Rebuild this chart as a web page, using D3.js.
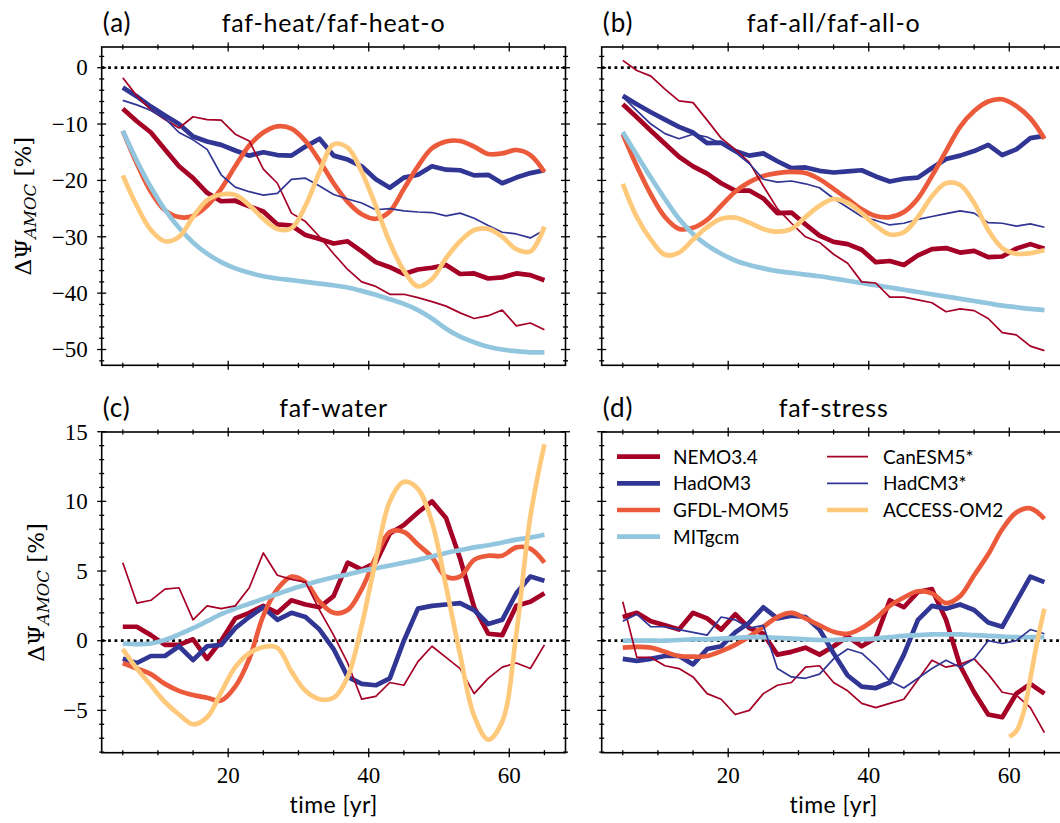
<!DOCTYPE html>
<html><head><meta charset="utf-8">
<script src="https://cdn.jsdelivr.net/npm/d3@7"></script>
<style>body{margin:0;background:#fff;} svg{display:block;}</style>
</head><body>
<svg id="chart" width="1060" height="823"></svg>
<script>
// ---------------- DATA ----------------
const years = [5,7,9,11,13,15,17,19,21,23,25,27,29,31,33,35,37,39,41,43,45,47,49,51,53,55,57,59,61,63,65];

// (a) faf-heat / faf-heat-o
const nemoA    = [-7.3,-9.5,-11.5,-14.5,-17.5,-19.6,-22.2,-23.7,-23.6,-24.6,-25.5,-27.8,-28.0,-29.7,-30.4,-31.2,-30.8,-32.6,-34.5,-35.4,-36.6,-35.8,-35.5,-35.0,-36.6,-36.5,-37.4,-37.2,-36.5,-36.8,-37.7];
const hadom3A  = [-3.5,-5.1,-6.9,-8.5,-10.0,-12.2,-13.1,-13.7,-14.7,-15.6,-15.0,-15.5,-15.6,-14.0,-12.6,-15.6,-16.3,-17.5,-19.8,-21.3,-19.5,-19.0,-17.5,-18.1,-18.2,-19.1,-19.0,-20.5,-19.5,-18.7,-18.2];
const gfdlA    = [-11.2,-17.0,-22.0,-25.3,-26.5,-26.3,-24.5,-21.5,-17.5,-13.8,-11.5,-10.4,-10.8,-13.0,-16.5,-20.5,-23.8,-26.0,-26.8,-25.5,-21.5,-17.5,-14.3,-13.1,-13.0,-14.0,-15.3,-15.2,-14.6,-15.5,-18.5];
const mitA     = [-11.2,-16.5,-21.2,-25.2,-28.4,-31.0,-33.0,-34.5,-35.6,-36.4,-37.0,-37.4,-37.7,-38.0,-38.3,-38.6,-39.0,-39.6,-40.3,-41.1,-41.9,-43.0,-44.5,-46.3,-47.7,-48.7,-49.5,-50.0,-50.3,-50.5,-50.5];
const canA     = [-1.8,-5.0,-7.5,-9.2,-10.7,-8.7,-9.2,-9.3,-11.8,-13.0,-18.0,-20.5,-25.8,-27.3,-30.0,-33.0,-35.8,-38.0,-38.8,-40.2,-40.2,-40.8,-41.5,-42.3,-43.5,-44.5,-44.0,-43.0,-45.8,-45.3,-46.5];
const hadcm3A  = [-5.8,-6.6,-7.6,-9.0,-11.5,-12.8,-14.5,-19.0,-21.2,-22.0,-22.6,-22.3,-19.8,-19.6,-21.0,-22.5,-23.3,-24.0,-25.2,-25.0,-25.4,-25.6,-25.7,-26.3,-25.8,-26.7,-28.0,-29.2,-29.5,-30.2,-28.8];
const accessA  = [-19.1,-24.5,-28.8,-30.8,-30.0,-26.5,-23.5,-22.5,-22.6,-24.4,-26.8,-28.6,-28.5,-24.5,-18.5,-13.6,-14.2,-18.5,-24.5,-31.0,-36.0,-38.8,-37.5,-33.8,-30.8,-28.8,-28.6,-30.0,-32.2,-32.6,-28.2];

// (b) faf-all / faf-all-o
const nemoB    = [-6.5,-8.8,-11.2,-13.5,-15.8,-17.5,-18.8,-20.5,-21.8,-21.8,-23.2,-25.8,-25.7,-27.8,-29.8,-30.9,-31.3,-32.3,-34.5,-34.3,-35.0,-33.3,-32.2,-32.0,-32.8,-32.5,-33.6,-33.5,-32.1,-31.3,-32.1];
const hadom3B  = [-5.0,-6.5,-7.9,-9.2,-10.5,-11.5,-13.4,-13.3,-14.8,-15.6,-15.2,-16.6,-17.8,-17.7,-18.3,-18.6,-18.4,-18.2,-19.3,-20.2,-19.7,-19.5,-17.8,-16.2,-15.6,-14.8,-13.7,-15.5,-14.5,-12.5,-12.1];
const gfdlB    = [-11.8,-17.5,-22.5,-26.5,-28.6,-28.4,-27.0,-24.5,-22.0,-20.3,-19.2,-18.7,-18.5,-18.7,-19.8,-21.5,-23.3,-25.1,-26.3,-26.5,-25.6,-23.2,-19.2,-14.8,-10.5,-7.7,-6.0,-5.6,-6.8,-9.0,-12.6];
const mitB     = [-11.4,-15.5,-19.5,-23.3,-26.8,-29.5,-31.5,-33.0,-34.2,-35.0,-35.6,-36.1,-36.4,-36.7,-37.0,-37.4,-37.8,-38.2,-38.6,-39.0,-39.4,-39.8,-40.2,-40.6,-41.0,-41.4,-41.8,-42.2,-42.5,-42.8,-43.0];
const canB     = [1.3,-0.5,-1.5,-3.8,-5.9,-6.2,-9.3,-12.5,-14.5,-16.8,-21.0,-25.0,-27.6,-30.0,-31.0,-33.1,-34.7,-38.0,-38.2,-40.7,-40.7,-41.2,-41.7,-43.3,-42.8,-43.1,-44.5,-47.0,-47.4,-49.4,-50.2];
const hadcm3B  = [-5.2,-7.6,-10.0,-11.7,-12.6,-11.8,-12.3,-13.5,-15.0,-17.0,-19.8,-20.3,-20.1,-20.6,-21.3,-23.2,-24.8,-26.4,-27.1,-27.9,-27.6,-26.9,-26.4,-25.9,-25.4,-25.8,-27.5,-27.6,-28.1,-27.7,-28.3];
const accessB  = [-20.6,-26.5,-30.5,-33.2,-32.8,-30.5,-28.3,-26.8,-26.6,-27.5,-28.6,-29.1,-28.6,-26.5,-24.5,-23.3,-24.0,-25.8,-28.0,-29.6,-29.2,-26.5,-22.8,-20.5,-20.8,-24.0,-28.8,-32.0,-33.0,-32.9,-32.4];

// (c) faf-water
const nemoC    = [1.0,1.0,0.4,-0.3,-0.3,0.1,-1.3,0.0,1.6,2.0,2.5,2.0,2.9,2.6,2.4,3.2,5.6,5.1,5.6,7.7,8.3,9.2,10.0,8.8,5.9,2.4,0.5,0.4,2.5,2.8,3.4];
const hadom3C  = [-1.3,-1.6,-1.1,-1.1,-0.4,-1.4,-0.4,-0.3,0.9,1.7,2.4,1.5,2.0,1.7,0.8,-0.6,-2.6,-3.1,-3.2,-2.7,0.0,2.3,2.5,2.6,2.7,2.2,1.2,1.5,3.4,4.6,4.3];
const gfdlC    = [-1.6,-2.0,-2.4,-3.1,-3.6,-3.9,-4.1,-4.3,-3.3,-1.3,1.8,3.7,4.6,4.2,2.8,2.0,2.2,3.7,6.0,7.8,7.8,6.9,6.0,4.6,4.6,5.8,6.1,6.1,6.7,6.6,5.6];
const mitC     = [-0.2,-0.25,-0.2,0.05,0.45,0.9,1.4,1.9,2.3,2.65,3.0,3.35,3.7,4.0,4.3,4.55,4.75,5.0,5.2,5.4,5.6,5.8,6.05,6.3,6.5,6.7,6.85,7.05,7.25,7.4,7.6];
const canC     = [5.6,2.7,2.9,3.7,3.8,1.5,2.5,2.3,2.5,3.8,6.3,4.7,4.4,4.2,2.2,0.4,-1.6,-4.2,-4.0,-3.0,-3.2,-1.5,-0.4,-1.2,-2.0,-3.8,-2.7,-1.9,-1.6,-2.0,-0.3];
const accessC  = [-0.6,-2.0,-3.2,-4.4,-5.3,-6.0,-5.5,-3.7,-1.9,-0.9,-0.45,-0.5,-2.2,-3.6,-4.2,-4.1,-2.6,1.1,5.8,10.0,11.4,10.9,8.5,3.9,-1.0,-5.4,-7.1,-5.8,0.5,8.9,14.1];

// (d) faf-stress
const nemoD    = [1.7,2.0,1.4,1.1,0.8,2.0,1.6,0.8,1.9,0.9,0.5,-1.0,-0.8,-0.5,-1.0,-0.4,0.3,-0.4,0.2,2.9,2.4,3.5,3.7,1.5,-1.8,-3.7,-5.3,-5.5,-3.8,-3.1,-3.8];
const hadom3D  = [-1.3,-1.45,-1.3,-1.1,-1.1,-1.7,-0.6,-0.4,0.6,1.3,2.4,1.6,1.8,1.7,0.8,-0.9,-2.5,-3.3,-3.4,-3.0,-1.0,1.5,2.5,2.3,2.6,2.2,1.3,1.0,2.8,4.6,4.2];
const gfdlD    = [-0.5,-0.45,-0.5,-0.8,-1.1,-1.15,-1.1,-0.75,-0.3,0.3,1.0,1.7,2.0,1.6,1.1,0.65,0.5,0.9,1.6,2.5,3.1,3.55,3.4,2.7,3.2,4.7,6.2,8.0,9.2,9.5,8.75];
const mitD     = [0.0,0.0,0.0,0.0,0.05,0.1,0.1,0.15,0.2,0.25,0.25,0.2,0.15,0.1,0.05,0.05,0.1,0.1,0.15,0.25,0.35,0.4,0.45,0.45,0.45,0.4,0.35,0.3,0.25,0.25,0.25];
const canD     = [2.8,-1.2,-1.2,-1.8,-2.0,-2.6,-3.8,-4.2,-5.3,-5.0,-3.8,-3.2,-3.0,-1.9,-1.8,-3.0,-3.6,-4.5,-4.8,-4.5,-4.2,-2.8,-1.4,-1.9,-1.7,-1.3,-2.4,-3.7,-3.9,-4.8,-6.6];
const hadcm3D  = [1.4,1.9,1.0,1.0,0.8,0.6,0.4,1.7,1.5,0.9,1.1,-2.0,-2.6,-2.7,-2.4,-1.3,-0.6,-0.9,-1.8,-2.9,-3.4,-2.7,-2.0,-1.4,-1.9,-1.3,0.0,-0.2,0.0,0.8,0.5];
const accessDYears = [60,61,62,63,64,65];
const accessD  = [-6.9,-6.5,-5.2,-2.7,0.0,2.3];

// tick values and labels
const xMajorTicks = [20,40,60];
const xMinorTicks = [5,10,15,25,30,35,45,50,55,65];
const yMajorTop = [0,-10,-20,-30,-40,-50];
const yMajorBottom = [15,10,5,0,-5];
const panelLetters = ["(a)","(b)","(c)","(d)"];
const panelTitles = ["faf-heat/faf-heat-o","faf-all/faf-all-o","faf-water","faf-stress"];
const modelNames = ["NEMO3.4","HadOM3","GFDL-MOM5","MITgcm","CanESM5*","HadCM3*","ACCESS-OM2"];

// ---------------- STYLE ----------------
const colors = {"NEMO3.4":"#a50026","HadOM3":"#313695","GFDL-MOM5":"#ec5a3c","MITgcm":"#92c6df",
                "CanESM5*":"#a50026","HadCM3*":"#313695","ACCESS-OM2":"#fec97a"};
const widths = {"NEMO3.4":4.7,"HadOM3":4.7,"GFDL-MOM5":4.7,"MITgcm":4.7,"CanESM5*":1.7,"HadCM3*":1.7,"ACCESS-OM2":4.7};
const smooth = {"GFDL-MOM5":true,"MITgcm":true,"ACCESS-OM2":true};
const SANS = "Lato, 'Noto Sans', sans-serif";
const SERIF = "'Liberation Serif', 'DejaVu Serif', serif";
const MATH = "'DejaVu Serif', serif";

const svg = d3.select("#chart");
svg.append("rect").attr("width",1060).attr("height",823).attr("fill","#fff");

const panels = [
  {x0:101.7, y0:47,  y1:365.3, dom:[-52.8,3.67],  yt:yMajorTop,    minStep:2, rng:[-52,2],
   series:{"NEMO3.4":nemoA,"HadOM3":hadom3A,"GFDL-MOM5":gfdlA,"MITgcm":mitA,"CanESM5*":canA,"HadCM3*":hadcm3A,"ACCESS-OM2":accessA}, ylab:true, xlab:false, labX:31},
  {x0:601.7, y0:47,  y1:365.3, dom:[-52.8,3.67],  yt:yMajorTop,    minStep:2, rng:[-52,2],
   series:{"NEMO3.4":nemoB,"HadOM3":hadom3B,"GFDL-MOM5":gfdlB,"MITgcm":mitB,"CanESM5*":canB,"HadCM3*":hadcm3B,"ACCESS-OM2":accessB}, ylab:false, xlab:false},
  {x0:101.7, y0:432, y1:752.7, dom:[-8.04,14.98], yt:yMajorBottom, minStep:1, rng:[-8,14],
   series:{"NEMO3.4":nemoC,"HadOM3":hadom3C,"GFDL-MOM5":gfdlC,"MITgcm":mitC,"CanESM5*":canC,"ACCESS-OM2":accessC}, ylab:true, xlab:true, labX:44},
  {x0:601.7, y0:432, y1:752.7, dom:[-8.04,14.98], yt:yMajorBottom, minStep:1, rng:[-8,14],
   series:{"NEMO3.4":nemoD,"HadOM3":hadom3D,"GFDL-MOM5":gfdlD,"MITgcm":mitD,"CanESM5*":canD,"HadCM3*":hadcm3D,"ACCESS-OM2":accessD}, ylab:false, xlab:true, legend:true}
];
const W = 463.8;

panels.forEach((p,i)=>{
  const x = d3.scaleLinear().domain([2,68]).range([p.x0, p.x0+W]);
  const y = d3.scaleLinear().domain(p.dom).range([p.y1, p.y0]);
  const g = svg.append("g");
  const cid = "clip"+i;
  svg.append("clipPath").attr("id",cid).append("rect")
     .attr("x",p.x0).attr("y",p.y0).attr("width",W).attr("height",p.y1-p.y0);

  // zero line
  g.append("line").attr("x1",p.x0).attr("x2",p.x0+W).attr("y1",y(0)).attr("y2",y(0))
   .attr("stroke","#000").attr("stroke-width",2.8).attr("stroke-dasharray","2.8,3.6");

  // series
  const lg = g.append("g").attr("clip-path",`url(#${cid})`);
  modelNames.forEach(name=>{
    const vals = p.series[name];
    if(!vals) return;
    const xs = (i===3 && name==="ACCESS-OM2") ? accessDYears : years;
    const pts = xs.map((t,k)=>[t, vals[k]]);
    const line = d3.line().x(d=>x(d[0])).y(d=>y(d[1]))
      .curve(smooth[name] ? d3.curveCatmullRom.alpha(0.5) : d3.curveLinear);
    lg.append("path").attr("d", line(pts)).attr("fill","none")
      .attr("stroke", colors[name]).attr("stroke-width", widths[name])
      .attr("stroke-linejoin","round").attr("stroke-linecap","butt");
  });

  // frame
  g.append("rect").attr("x",p.x0).attr("y",p.y0).attr("width",W).attr("height",p.y1-p.y0)
   .attr("fill","none").attr("stroke","#000").attr("stroke-width",1.6);

  // ticks (in-out on all sides)
  const tk = g.append("g").attr("stroke","#000").attr("stroke-width",1.3);
  const xr = p.x0+W;
  xMajorTicks.forEach(t=>{
    [p.y0,p.y1].forEach(yy=>tk.append("line").attr("x1",x(t)).attr("x2",x(t)).attr("y1",yy-4.5).attr("y2",yy+4.5));
  });
  xMinorTicks.forEach(t=>{
    [p.y0,p.y1].forEach(yy=>tk.append("line").attr("x1",x(t)).attr("x2",x(t)).attr("y1",yy-2.5).attr("y2",yy+2.5));
  });
  p.yt.forEach(t=>{
    [p.x0,xr].forEach(xx=>tk.append("line").attr("y1",y(t)).attr("y2",y(t)).attr("x1",xx-4.5).attr("x2",xx+4.5));
  });
  d3.range(p.rng[0], p.rng[1]+0.01, p.minStep).filter(v=>!p.yt.includes(v)).forEach(t=>{
    [p.x0,xr].forEach(xx=>tk.append("line").attr("y1",y(t)).attr("y2",y(t)).attr("x1",xx-2.5).attr("x2",xx+2.5));
  });

  // tick labels
  const fmt = d3.format("d");
  if(p.ylab){
    p.yt.forEach(t=>{
      g.append("text").attr("x",p.x0-14).attr("y",y(t)+7.8).attr("text-anchor","end")
       .attr("font-family",SERIF).attr("font-size",23).text(fmt(t));
    });
    const yl = g.append("text").attr("transform",`translate(${p.labX},${(p.y0+p.y1)/2}) rotate(-90)`)
      .attr("text-anchor","middle").attr("font-family",MATH).attr("font-size",23);
    yl.append("tspan").text("ΔΨ");
    yl.append("tspan").attr("font-style","italic").attr("font-size",16.5).attr("dy",5).text("AMOC");
    yl.append("tspan").attr("dy",-5).text(" [%]");
  }
  if(p.xlab){
    xMajorTicks.forEach(t=>{
      g.append("text").attr("x",x(t)).attr("y",p.y1+30.5).attr("text-anchor","middle")
       .attr("font-family",SERIF).attr("font-size",23).text(fmt(t));
    });
    g.append("text").attr("x",p.x0+W/2).attr("y",p.y1+60).attr("text-anchor","middle")
     .attr("font-family",SANS).attr("font-size",23).attr("letter-spacing",0.5).text("time [yr]");
  }

  // titles
  g.append("text").attr("x",p.x0+1).attr("y",p.y0-15).attr("font-family",SANS).attr("font-size",26)
   .attr("letter-spacing",1).text(panelLetters[i]);
  g.append("text").attr("x",p.x0+W/2).attr("y",p.y0-15).attr("text-anchor","middle")
   .attr("font-family",SANS).attr("font-size",25).attr("letter-spacing",0.8).text(panelTitles[i]);

  // legend
  if(p.legend){
    const cols = [[617,660,673],[827,868,883]];
    const rows = [456.7,483.3,510,536.7];
    modelNames.forEach((name,k)=>{
      const c = k<4 ? 0 : 1, r = k<4 ? k : k-4;
      const lgx = cols[c];
      g.append("line").attr("x1",lgx[0]).attr("x2",lgx[1]).attr("y1",rows[r]).attr("y2",rows[r])
       .attr("stroke",colors[name]).attr("stroke-width",widths[name]);
      g.append("text").attr("x",lgx[2]).attr("y",rows[r]+6.8).attr("font-family",SANS)
       .attr("font-size",19).text(name);
    });
  }
});
</script>
</body></html>
